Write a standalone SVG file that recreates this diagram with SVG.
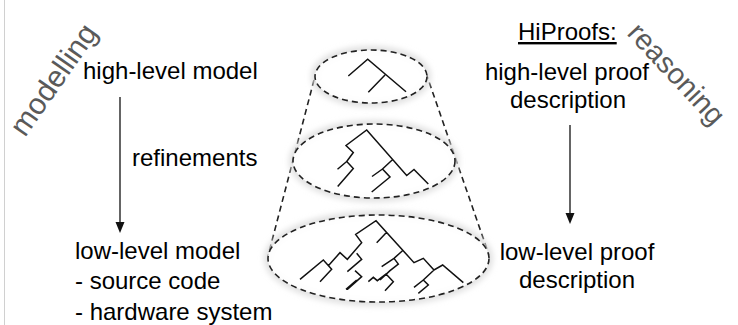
<svg xmlns="http://www.w3.org/2000/svg" width="738" height="325" viewBox="0 0 738 325">
<defs>
<style>
.t{font-family:"Liberation Sans",Arial,Helvetica,sans-serif;font-size:24px;fill:#000}
.r{font-family:"Liberation Sans",Arial,Helvetica,sans-serif;font-size:30px;fill:#5a5a5a}
.dash{fill:none;stroke:#222;stroke-width:1.6;stroke-dasharray:6 4}
.glow{fill:none;stroke:#dcdcdc;stroke-width:7;filter:url(#blur)}
.tree{fill:none;stroke:#111;stroke-width:1.5;stroke-linejoin:miter}
.arr{stroke:#111;stroke-width:1.3}
</style>
<filter id="blur" x="-20%" y="-30%" width="140%" height="160%"><feGaussianBlur stdDeviation="3"/></filter>
</defs>
<rect width="738" height="325" fill="#fff"/>
<line x1="4.5" y1="0" x2="4.5" y2="325" stroke="#d0d0d0" stroke-width="1"/>

<g id="modelling-label"><text class="r" transform="translate(25,138) rotate(-55)">modelling</text></g>
<g id="reasoning-label"><text class="r" style="font-size:29px" transform="translate(626,34) rotate(47)">reasoning</text></g>

<g id="high-level-model"><text class="t" x="83" y="79">high-level model</text></g>
<g id="refinements-label"><text class="t" x="132" y="166">refinements</text></g>
<g id="low-level-model"><text class="t" x="75" y="259">low-level model</text><text class="t" x="75" y="289">- source code</text><text class="t" x="75" y="320">- hardware system</text></g>

<g id="hiproofs-title"><text class="t" x="518" y="40" text-decoration="underline">HiProofs:</text></g>
<g id="high-level-proof"><text class="t" x="567" y="80" text-anchor="middle">high-level proof</text><text class="t" x="568" y="108" text-anchor="middle">description</text></g>
<g id="low-level-proof"><text class="t" x="577" y="260" text-anchor="middle">low-level proof</text><text class="t" x="577" y="288" text-anchor="middle">description</text></g>

<g id="connectors">
<line class="arr" x1="120" y1="97" x2="120" y2="223"/>
<polygon points="115.5,222 124.5,222 120,233" fill="#111"/>
<line class="arr" x1="570" y1="125" x2="570" y2="214"/>
<polygon points="565.5,213 574.5,213 570,224" fill="#111"/>
<line class="dash" x1="314" y1="80" x2="268" y2="256"/>
<line class="dash" x1="426" y1="73" x2="489" y2="255"/>
</g>

<g id="top-level">
<ellipse class="glow" cx="371" cy="76.5" rx="56" ry="26.5"/>
<ellipse cx="371" cy="76.5" rx="56" ry="26.5" fill="#fff" fill-opacity="0.9"/>
<ellipse class="dash" cx="371" cy="76.5" rx="56" ry="26.5"/>
<path class="tree" d="M348.3,76 L367.7,59.3 L406,91.7 M385,75 L368.3,92.3"/>
</g>

<g id="middle-level">
<ellipse class="glow" cx="374" cy="161" rx="81" ry="37"/>
<ellipse cx="374" cy="161" rx="81" ry="37" fill="#fff" fill-opacity="0.9"/>
<ellipse class="dash" cx="374" cy="161" rx="81" ry="37"/>
<path class="tree" d="M428.3,184 L414,169.5 L406.7,175.5 L366.7,130 L346,145.5 L353.3,152.5 L346.7,161.5 L353.3,168.5 L337.7,186.5 M346.7,161.5 L337.5,169.3 M392.7,159.5 L382.5,169 L390,177 L371.7,192 M382.5,169 L372,176.5"/>
</g>

<g id="bottom-level">
<ellipse class="glow" cx="378.5" cy="258.5" rx="110.5" ry="43.5"/>
<ellipse cx="378.5" cy="258.5" rx="110.5" ry="43.5" fill="#fff" fill-opacity="0.9"/>
<ellipse class="dash" cx="378.5" cy="258.5" rx="110.5" ry="43.5"/>
<g transform="translate(260,200) scale(0.33333)">
<path class="tree" style="stroke-width:4.5" d="M610,248 L548,195 L522,210 L490,175 L462,188 L348,62 L287,103 L305,128 L262,178 L240,158 L205,197 M120,238 L190,180 L215,208 L180,245 M380,97 L350,128 M430,150 L402,175 L365,200 M402,175 L415,192 L390,212 L360,240 M325,245 L340,232 L352,242 L378,222 L400,245 L375,272 M290,160 L305,178 L262,215 M258,268 L290,240 M285,212 L305,230 L262,268 M522,210 L490,240 L505,255 L475,280 M490,240 L462,262"/>
</g>
</g>
</svg>
